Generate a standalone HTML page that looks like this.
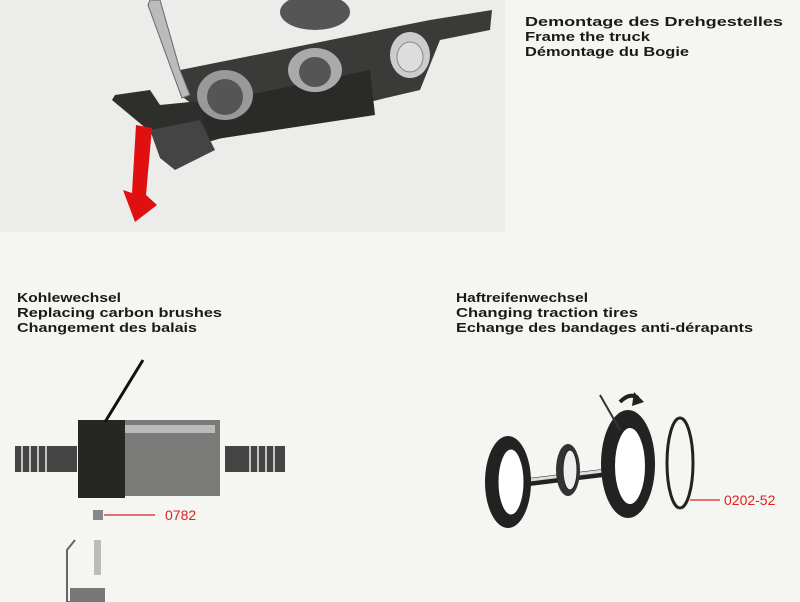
<!DOCTYPE html>
<html><head><meta charset="utf-8"><style>
html,body{margin:0;padding:0;background:#f5f5f2;}
svg{display:block}
text{font-family:"Liberation Sans",sans-serif;font-weight:bold;font-size:13px;fill:#1a1a1a}
.r{fill:#d22;font-weight:normal;font-size:14px}
</style></head><body>
<svg width="800" height="602" viewBox="0 0 800 602" xmlns="http://www.w3.org/2000/svg">
<rect width="800" height="602" fill="#f5f5f2"/>
<rect x="0" y="0" width="505" height="232" fill="#ececea"/>
<!-- truck -->
<polygon points="180,70 430,20 492,10 490,30 440,40 420,90 250,130 215,140 200,110 180,95" fill="#3a3a38"/>
<polygon points="115,95 150,90 160,105 210,100 215,140 180,150 170,165 160,140 130,115 112,100" fill="#2e2e2c"/>
<polygon points="150,130 200,120 215,150 175,170 160,158" fill="#444"/>
<polygon points="200,105 370,70 375,115 210,140" fill="#2a2a28"/>
<ellipse cx="225" cy="95" rx="28" ry="25" fill="#999"/>
<ellipse cx="225" cy="97" rx="18" ry="18" fill="#555"/>
<ellipse cx="315" cy="70" rx="27" ry="22" fill="#aaa"/>
<ellipse cx="315" cy="72" rx="16" ry="15" fill="#555"/>
<ellipse cx="410" cy="55" rx="20" ry="23" fill="#ccc"/>
<ellipse cx="410" cy="57" rx="13" ry="15" fill="#ddd" stroke="#888"/>
<ellipse cx="315" cy="12" rx="35" ry="18" fill="#555"/>
<polygon points="150,0 160,0 180,70 190,95 182,98 168,60 148,5" fill="#bbb" stroke="#666"/>
<!-- red arrow -->
<polygon points="136,125 152,128 146,195 157,205 135,222 123,190 132,193" fill="#e01010"/>
<text x="525" y="26" textLength="258" lengthAdjust="spacingAndGlyphs">Demontage des Drehgestelles</text>
<text x="525" y="41" textLength="125" lengthAdjust="spacingAndGlyphs">Frame the truck</text>
<text x="525" y="56" textLength="164" lengthAdjust="spacingAndGlyphs">Démontage du Bogie</text>
<text x="17" y="302" textLength="104" lengthAdjust="spacingAndGlyphs">Kohlewechsel</text>
<text x="17" y="317" textLength="205" lengthAdjust="spacingAndGlyphs">Replacing carbon brushes</text>
<text x="17" y="332" textLength="180" lengthAdjust="spacingAndGlyphs">Changement des balais</text>
<text x="456" y="302" textLength="132" lengthAdjust="spacingAndGlyphs">Haftreifenwechsel</text>
<text x="456" y="317" textLength="182" lengthAdjust="spacingAndGlyphs">Changing traction tires</text>
<text x="456" y="332" textLength="297" lengthAdjust="spacingAndGlyphs">Echange des bandages anti-dérapants</text>
<!-- motor -->
<g>
<rect x="15" y="446" width="62" height="26" fill="#444"/>
<g stroke="#eee" stroke-width="1.5"><line x1="22" y1="444" x2="22" y2="474"/><line x1="30" y1="444" x2="30" y2="474"/><line x1="38" y1="444" x2="38" y2="474"/><line x1="46" y1="444" x2="46" y2="474"/></g>
<rect x="225" y="446" width="60" height="26" fill="#444"/>
<g stroke="#eee" stroke-width="1.5"><line x1="250" y1="444" x2="250" y2="474"/><line x1="258" y1="444" x2="258" y2="474"/><line x1="266" y1="444" x2="266" y2="474"/><line x1="274" y1="444" x2="274" y2="474"/></g>
<rect x="122" y="420" width="98" height="76" fill="#7a7a78"/>
<rect x="125" y="425" width="90" height="8" fill="#bbb"/>
<rect x="78" y="420" width="47" height="78" fill="#262624"/>
<line x1="105" y1="422" x2="143" y2="360" stroke="#111" stroke-width="3"/>
</g>
<rect x="93" y="510" width="10" height="10" fill="#888"/>
<line x1="104" y1="515" x2="155" y2="515" stroke="#d22" stroke-width="1.2"/>
<text class="r" x="165" y="520">0782</text>
<rect x="94" y="540" width="7" height="35" fill="#bbb"/>
<polyline points="80,602 67,602 67,550 75,540" fill="none" stroke="#666" stroke-width="2"/>
<rect x="70" y="588" width="35" height="14" fill="#777"/>
<!-- wheelset -->
<g>
<line x1="505" y1="485" x2="628" y2="470" stroke="#222" stroke-width="8"/>
<line x1="505" y1="483" x2="628" y2="468" stroke="#ddd" stroke-width="3"/>
<ellipse cx="508" cy="482" rx="23" ry="46" fill="#222"/>
<ellipse cx="511" cy="482" rx="14" ry="34" fill="#fff" stroke="#222" stroke-width="3"/>
<ellipse cx="568" cy="470" rx="12" ry="26" fill="#333"/>
<ellipse cx="570" cy="470" rx="7" ry="20" fill="#eee" stroke="#222"/>
<ellipse cx="628" cy="464" rx="27" ry="54" fill="#222"/>
<ellipse cx="630" cy="466" rx="17" ry="40" fill="#fff" stroke="#222" stroke-width="4"/>
<ellipse cx="680" cy="463" rx="13" ry="45" fill="none" stroke="#222" stroke-width="3"/>
<line x1="600" y1="395" x2="620" y2="430" stroke="#333" stroke-width="2"/>
<path d="M620,402 Q630,392 638,398" fill="none" stroke="#222" stroke-width="4"/>
<polygon points="634,392 644,402 632,406" fill="#222"/>
</g>
<line x1="690" y1="500" x2="720" y2="500" stroke="#d22" stroke-width="1.2"/>
<text class="r" x="724" y="505">0202-52</text>
</svg>
</body></html>
